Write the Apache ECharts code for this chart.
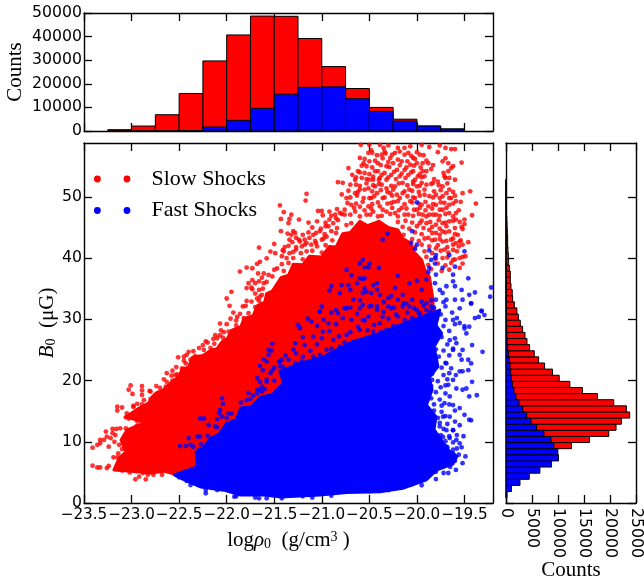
<!DOCTYPE html>
<html><head><meta charset="utf-8">
<style>html,body{margin:0;padding:0;background:#fff}#c{width:644px;height:583px}</style>
<script src="https://cdn.jsdelivr.net/npm/echarts@6/dist/echarts.min.js"></script>
</head><body><div id="c"></div>
<script>
const rhoTicks=[-23.5,-23,-22.5,-22,-21.5,-21,-20.5,-20,-19.5];
const fieldTicks=[0,10,20,30,40,50];
const topCountTicks=[0,10000,20000,30000,40000,50000];
const sideCountTicks=[0,5000,10000,15000,20000,25000];

const rhoBinEdges=[-23.25,-23,-22.75,-22.5,-22.25,-22,-21.75,-21.5,-21.25,-21,-20.75,-20.5,-20.25,-20,-19.75,-19.5];
const slowRhoCounts=[550,2100,6900,15900,29700,40700,48700,48600,39200,27300,18000,10000,5000,2100,850];
const fastRhoCounts=[0,0,0,200,1700,4500,9600,15600,18500,18700,13700,8300,4200,2100,850];

const fieldBinStart=0.87;
const slowFieldCounts=[50,150,300,500,1000,1800,3000,4500,12600,16050,19760,21160,22190,23790,23150,20720,17590,14700,12280,10230,8950,7420,6270,5440,4540,4030,3650,3200,2750,2370,2100,1600,1280,1200,960,830,830,640,510,450,380,320,320,250,200,150,100,80,50,30,20,10];
const fastFieldCounts=[200,1050,2690,4480,6520,8760,10100,9970,9200,8630,7290,5880,4800,3960,3200,2490,1920,1530,1215,1020,900,770,640,450,320,200,150,120,90,70,50,40,30,20,15,10,8,5,4,3,2,1,1,1,0,0,0,0,0,0,0,0];

const slowCloud=[[-23.185,5.4],[-23.13,7.35],[-23.06,8.3],[-23.11,10.3],[-23.05,11.9],[-22.85,13.2],[-23.06,14.05],[-22.92,15.5],[-22.82,16.3],[-22.78,17.4],[-22.74,18],[-22.67,18.4],[-22.61,19.3],[-22.55,20.1],[-22.5,20.6],[-22.47,21.9],[-22.4,22.2],[-22.36,23.8],[-22.25,24.1],[-22.16,25],[-22.1,25.2],[-22.05,26.3],[-21.99,26.9],[-21.95,28.2],[-21.85,28.8],[-21.82,30.1],[-21.72,30.6],[-21.68,32.2],[-21.6,32.8],[-21.58,34.2],[-21.52,34.6],[-21.43,36.8],[-21.35,37.2],[-21.3,39],[-21.2,38.9],[-21.13,40.3],[-21,40.2],[-20.92,41.9],[-20.85,41.8],[-20.78,44],[-20.7,44.2],[-20.6,46],[-20.52,45.3],[-20.4,46],[-20.3,45],[-20.2,44.6],[-20.15,43.2],[-20.07,42.5],[-20.03,41],[-19.95,39.7],[-19.92,38.2],[-19.87,37],[-19.83,33.2],[-19.83,32.1],[-19.8,30.4],[-19.9,25],[-21,15],[-22.2,6],[-22.31,5.9],[-22.42,5.1],[-22.52,4.6],[-22.66,5.2],[-22.8,4.9],[-23,5.2]];
const fastCloud=[[-22.31,5.9],[-22.32,8.3],[-22.24,9.1],[-22.17,10.6],[-22.08,11.2],[-22,13],[-21.9,13.6],[-21.85,15.5],[-21.74,15.7],[-21.64,17.3],[-21.52,17.7],[-21.4,19.6],[-21.44,21.5],[-21.23,22.8],[-20.98,23.9],[-20.67,26.4],[-20.39,27.7],[-20.04,29.9],[-19.76,31.5],[-19.8,29],[-19.74,27.7],[-19.82,25.5],[-19.78,22.3],[-19.87,20.5],[-19.84,18.5],[-19.9,16],[-19.8,14.1],[-19.82,12],[-19.72,9.75],[-19.66,8.5],[-19.58,7.6],[-19.62,6.4],[-19.79,5.4],[-19.9,3.8],[-20.15,2.4],[-20.39,1.85],[-20.74,1.7],[-21.02,1.3],[-21.44,1],[-21.61,1.3],[-21.85,1.3],[-22.03,2.1],[-22.27,2.6],[-22.45,3.8],[-22.55,4.6]];

const slowDots=[[-23.41,6.1],[-23.36,5.8],[-23.33,5.8],[-23.26,5.7],[-23.24,6.05],[-23.41,9.04],[-23.36,9.5],[-23.33,10.3],[-23.33,9.75],[-23.27,11.66],[-23.2,12.1],[-23.16,12.1],[-23.26,10.84],[-23.29,10.3],[-23.22,10.6],[-23.17,11.1],[-23.24,9.2],[-23.13,9.5],[-23.19,7.46],[-23.15,7.46],[-22.96,3.87],[-22.92,4.3],[-22.85,3.87],[-22.83,4.6],[-22.77,4.6],[-23.15,15.74],[-23.1,15.6],[-23.15,15.1],[-23.06,14],[-23.03,13.8],[-22.99,13.9],[-23.01,19.2],[-22.99,17.8],[-23.03,18.5],[-22.89,19.1],[-22.89,18.4],[-22.89,17.65],[-22.81,18.3],[-22.74,19.1],[-22.68,4.6],[-22.66,5.4],[-22.98,15.7],[-23.05,14.65],[-22.89,13.3],[-22.94,13.3],[-23.06,12.2],[-23.12,12.2],
[-23.15,5.6],[-23.1,5.3],[-23.02,5],[-22.95,5.2],[-22.88,4.9],[-23.12,6.6],[-23.1,8.8],[-23.02,8.2],[-23,11.5],[-22.95,12.5],[-23.2,11.4],[-23.18,10],[-23.05,10.4],[-23.14,8.1],
[-21.66,41.7],[-21.5,42.3],[-21.41,41.3],[-21.49,40.8],[-21.54,41.06],[-21.58,39.97],[-21.65,39.4],[-21.68,39.05],[-21.79,38.45],[-21.73,38.34],[-21.86,37.8],[-21.67,37.5],[-21.61,37.5],[-21.56,37.25],[-21.47,38.3],[-21.73,36.4],[-21.66,36.2],[-21.77,35.9],[-21.79,35.1],[-21.73,34.9],[-21.61,35.9],[-21.66,34.8],[-21.95,34.5],[-22,33.4],[-21.65,33.7],[-21.68,33.4],[-21.79,33],[-21.97,32.2],[-21.83,32.1],[-21.93,31.1],[-21.96,30.1],[-22.07,29.3],[-21.89,30.4],[-21.79,29.9],[-22.03,27.9],[-22.12,27.4],[-22.07,27.4],[-22.1,26.9],[-22.22,26.4],[-22.17,25.3],[-22.29,25.3],[-22.4,24.7],[-22.51,23.8],[-22.45,23.9],[-22.45,23.25],[-22.38,23.4],[-22.57,21.6],[-22.63,21.2],[-22.54,20.9],[-22.63,19.8],[-22.98,15.9],[-22.89,16.1],
[-21.44,48.6],[-21.4,47.5],[-21.43,46.4],[-21.32,47.1],[-21.34,46.4],[-21.35,45.7],[-21.24,46.3],[-21.14,45.8],[-21.43,44.4],[-21.3,44.4],[-21.32,43.8],[-21.28,44.1],[-21.27,43.3],[-21.34,43],[-21.31,42.6],[-21.39,41.8],[-21.4,41.1],[-21.42,40.3],[-21.23,42.7],[-21.18,43],[-21.13,43.3],[-21.09,43.8],[-21.06,44.1],[-21.02,44.4],[-21.16,42.45],[-21.21,41.9],[-21.27,41.4],[-21.34,40.8],[-21.37,40],[-21.16,41.1],[-21.11,42.2],[-21.06,42.45],[-21,43],[-20.95,43.5],[-20.9,44.4],[-20.93,45.2],[-20.88,45.7],[-20.92,46.3],[-20.86,47.1],[-20.92,47.6],[-21.04,47.7],[-21,47.7],[-21.16,50.5],[-21.17,49.4],[-20.83,52.4],[-20.78,52.3],[-20.72,54.7],[-20.79,50.4],[-20.69,48.7],[-20.74,49.8],[-20.68,53.6],[-20.65,52.8],[-20.62,54.2],[-20.64,52],[-20.65,50.6],[-20.6,51.2],[-20.58,53.1],[-20.56,55.5],[-20.6,56.35],[-20.51,57.2],[-20.48,57.6],[-20.5,55.8],[-20.53,55],[-20.55,53.9],[-20.5,52.8],[-20.44,54.2],[-20.41,55.5],[-20.44,51.7],[-20.51,51.4],[-20.56,49.8],[-20.6,48.4],[-20.65,47.6],[-20.7,47.1],[-20.76,47.1],[-20.81,47.4],[-20.85,46.5],[-20.74,45.4],[-20.69,45.7],[-20.48,49.8],[-20.42,50.6],[-20.37,52],[-20.32,52.8],[-20.37,53.6],[-20.32,55],[-20.28,56.35],[-20.23,57.2],[-20.2,58],[-20.39,58.5],[-20.35,58],[-20.3,58.4],[-20.34,57.4],[-20.37,56.9],[-20.59,58.5],[-20.5,58.5],[-20.25,55.5],[-20.21,54.4],[-20.27,53.6],[-20.16,55.8],[-20.13,56.9],[-20.13,58],[-20.07,58.25],[-20.09,57.2],[-20.04,56.35],[-20.07,55.25],[-20.13,54.4],[-20.09,53.6],[-20.04,54.2],[-20,55.5],[-19.97,56.9],[-19.94,55.5],[-19.88,55.5],[-19.94,54.2],[-19.99,53.35],[-19.92,53.35],[-20.04,52.5],[-20.15,52.3],[-20.23,51.7],[-20.28,50.6],[-20.21,50.35],[-20.15,50.6],[-20.08,51.2],[-20,51.7],[-19.95,52.3],[-19.9,52],[-19.85,54.55],[-19.95,58.5],[-19.87,58.15],[-19.76,58.4],[-19.7,58],[-19.64,57.8],[-19.6,57.8],[-19.78,57.3],[-19.73,55.8],[-19.67,55.5],[-19.64,54.7],[-19.67,54.2],[-19.53,55.6],[-19.71,53.35],[-19.66,53.1],[-19.78,52.5],[-19.83,52.3],[-19.73,51.7],[-19.69,50.6],[-19.8,50.35],[-19.76,49.8],[-19.87,50.1],[-19.92,50.35],[-19.66,51.2],[-19.52,50.6],[-19.44,50.9],[-19.59,49.3],[-19.38,48.9],[-19.64,49.8],[-19.6,50.2],[-19.71,49],[-19.66,48.7],[-19.8,48.7],[-19.88,48.45],[-19.95,48.7],[-19.73,47.9],[-19.66,47.35],[-19.59,47.35],[-19.8,47.1],[-19.87,47.1],[-19.94,47.1],[-20,47.9],[-19.42,47],[-19.5,46.3],[-19.5,45.55],[-19.59,46.3],[-19.66,46],[-19.73,45.7],[-19.8,45.45],[-19.9,45.7],[-19.97,45.7],[-19.57,43.8],[-19.52,44.75],[-19.66,44.35],[-19.73,44.35],[-19.8,44.1],[-19.87,44.6],[-19.46,42.6],[-19.55,42.7],[-19.64,43],[-19.73,42.7],[-19.81,43],[-19.88,43.3],[-19.55,40],[-19.62,39.7],[-19.71,41.4],[-19.8,41.6],[-19.62,41.35],[-19.73,40],[-19.59,42.45],[-19.52,42.2],[-19.52,39.1],[-19.55,38.4],[-19.49,40.3],
[-20.39,48.45],[-20.32,47.6],[-20.23,47.35],[-20.16,48.2],[-20.09,47.1],[-20.46,47.6],[-20.53,47.1],[-20.41,46.8],[-20.27,49],[-20.2,49.3],[-20.36,49.8],[-20.07,49.3],[-20.51,48.45],[-20.02,49.8],[-20.32,51.4],[-20.39,53.1],[-20.18,53.35],[-20.46,52.8],
[-20.47,57.2],[-20.42,56.8],[-20.33,57.1],[-20.26,56.9],[-20.18,57.4],[-20.06,56.7],[-20,57.3],[-19.93,56.8],[-20.55,56.2],[-20.44,55.9],[-20.36,56.3],[-20.3,55.7],[-20.2,56.1],[-20.1,55.8],[-20.02,56.2],[-19.9,55.9],[-19.7,56.3],[-20.58,55.1],[-20.47,54.8],[-20.38,55.2],[-20.29,54.9],[-20.18,55.2],[-20.11,54.8],[-20.03,55.1],[-19.96,54.8],[-19.83,55.2],[-19.62,55],[-20.6,54],[-20.5,53.7],[-20.41,54.2],[-20.34,53.9],[-20.24,54.1],[-20.16,53.8],[-20.06,54],[-19.97,53.7],[-19.9,54.2],[-19.72,53.9],[-20.64,53.2],[-20.53,52.9],[-20.46,53.3],[-20.4,52.8],[-20.3,53.2],[-20.22,52.9],[-20.12,53.1],[-20.02,52.8],[-19.95,53.2],[-19.82,52.9],[-19.7,53.1],[-19.6,52.8],[-20.7,52],[-20.6,51.8],[-20.53,52.2],[-20.46,51.9],[-20.4,52.1],[-20.27,51.8],[-20.19,52.2],[-20.1,51.9],[-20.04,52.1],[-19.97,51.8],[-19.85,52.1],[-19.77,51.9],[-19.68,52.2],[-20.72,51],[-20.62,50.8],[-20.55,51.2],[-20.47,50.9],[-20.38,51.1],[-20.31,50.8],[-20.25,51.2],[-20.13,50.9],[-20.05,51],[-19.98,50.8],[-19.92,51.2],[-19.82,50.9],[-19.75,51.1],[-19.62,50.8],[-20.7,49.9],[-20.63,50.2],[-20.5,49.8],[-20.45,50.1],[-20.34,49.9],[-20.26,50.2],[-20.18,49.8],[-20.1,50.1],[-20.04,49.9],[-19.97,50.2],[-19.83,49.9],[-19.73,50.1],[-19.66,49.8],[-20.73,49],[-20.64,48.9],[-20.57,49.2],[-20.47,48.8],[-20.41,49.1],[-20.31,48.9],[-20.24,49.2],[-20.13,48.8],[-20.05,49.1],[-19.98,48.9],[-19.91,49.2],[-19.83,48.8],[-19.75,49.1],[-19.62,48.9],[-19.54,49.2],[-20.84,48],[-20.76,47.9],[-20.66,48.2],[-20.55,47.8],[-20.48,48.1],[-20.36,47.9],[-20.26,48.2],[-20.19,47.8],[-20.11,48.1],[-20.03,47.9],[-19.97,48.2],[-19.91,47.8],[-19.84,48.1],[-19.76,47.9],[-19.69,48.2],[-19.56,47.8],[-20.99,47],[-20.9,46.9],[-20.79,47.2],[-20.6,46.8],[-20.49,47.1],[-20.37,46.9],[-20.28,47.2],[-20.2,46.8],[-20.13,47.1],[-20.04,46.9],[-19.98,47.2],[-19.9,46.8],[-19.83,47.1],[-19.76,46.9],[-19.7,47.2],[-19.62,46.8],[-21.05,46],[-20.96,45.8],[-20.83,46.2],[-20.2,45.9],[-20.12,46.1],[-20.05,45.8],[-19.95,46.1],[-19.86,45.9],[-19.77,46.2],[-19.7,45.8],[-19.62,46.1],[-19.55,45.9],[-21.1,45],[-21.01,44.8],[-20.96,45.2],[-20.84,44.9],[-20.15,45.1],[-20.08,44.8],[-20,45.2],[-19.93,44.9],[-19.84,45.1],[-19.76,44.8],[-19.69,45.2],[-19.6,44.9],[-19.53,45.1],[-21.36,44],[-21.2,43.8],[-21.14,44.2],[-20.97,43.9],[-20.85,44.1],[-20.14,43.8],[-20.02,44.2],[-19.95,43.9],[-19.84,44.1],[-19.76,43.8],[-19.7,44.2],[-19.6,43.9],[-21.24,43],[-21.07,42.8],[-20.98,43.2],[-20.89,42.9],[-20.05,43.1],[-19.98,42.8],[-19.92,43.2],[-19.84,42.9],[-19.76,43.1],[-19.69,42.8],[-19.62,43.2],[-19.54,42.9],[-21.35,42],[-21.27,41.8],[-21.18,42.2],[-21.05,41.9],[-20.96,42.1],[-20.02,41.8],[-19.95,42.2],[-19.87,41.9],[-19.78,42.1],[-19.68,41.8],[-19.62,42.2],[-19.56,41.9],[-21.3,41],[-21.22,40.8],[-21.1,41.2],[-21,40.9],[-19.92,41.1],[-19.84,40.8],[-19.75,41.2],[-19.67,40.9],[-19.58,41.1],[-21.3,40],[-21.2,39.8],[-19.9,40.2],[-19.8,39.9],[-19.68,40.1],[-19.6,39.8],[-19.52,40.2],[-21.42,39],[-21.35,39.2],[-19.88,38.9],[-19.78,39.1],[-19.7,38.8],[-19.64,39.2],[-21.5,38.1],[-21.4,37.9],[-19.85,38.2],[-19.74,37.9],[-19.66,38.1],[-21.52,37],[-21.63,36.8],[-21.58,36.1],[-21.7,35.9],[-21.62,35],[-21.74,35.2],[-21.63,34],[-21.7,34.2],[-21.66,33],[-21.74,32.9],[-21.7,32],[-21.8,32.2],[-21.77,31],[-21.86,30.9],[-21.82,30.2],[-21.9,29.8],[-21.9,29],[-22,29.2],[-21.98,28],[-22.06,28.2],[-22.04,27],[-22.14,26.8],[-22.13,26],[-22.2,26.2],[-22.25,25.8],[-22.24,25],[-22.35,24.8],[-22.33,24],[-22.42,24.2],[-22.37,23],[-22.43,22.8],[-22.47,22],[-22.53,22.2],[-22.52,21],[-22.58,20.8],[-22.57,20],[-22.66,20.2],[-22.64,19],[-22.7,18.8],[-22.72,18],[-22.8,18.2],[-22.8,17],[-22.87,16.8],[-22.84,16],[-22.94,16.2]];

const fastDots=[[-19.43,32.6],[-19.32,31.3],[-19.29,30.7],[-19.35,30.4],[-19.39,30.2],[-19.45,28.8],[-19.48,27.7],[-19.31,24.7],[-19.42,25.8],[-19.52,25],[-19.53,23.4],[-19.46,23.4],[-19.43,22.8],[-19.46,21.7],[-19.52,21.5],[-19.59,20.9],[-19.42,19.8],[-19.48,18.7],[-19.52,18.5],[-19.37,17.6],[-19.45,17.4],[-19.5,14.4],[-19.45,13.6],[-19.43,13.5],[-19.55,12.7],[-19.51,10.9],[-19.55,9.75],[-19.49,7.6],[-19.52,6.5],[-19.59,5.4],[-19.67,4.9],
[-19.62,29.9],[-19.55,29.4],[-19.5,28.5],[-19.655,26.6],[-19.585,26.1],[-19.62,25],[-19.55,24.2],[-19.69,22.8],[-19.64,22],[-19.55,21.5],[-19.62,20.1],[-19.67,19.3],[-19.585,18.7],[-19.655,17.4],[-19.71,16.3],[-19.62,16],[-19.55,15.5],[-19.725,14.1],[-19.655,14.1],[-19.6,13.3],[-19.76,12.5],[-19.69,11.9],[-19.62,11.9],[-19.725,10.8],[-19.655,10.6],[-19.585,10.3],[-19.69,9.2],[-19.62,8.7],[-19.76,7.6],
[-22.38,2.94],[-22.22,1.58],[-22.22,2.12],[-22.1,2.12],[-21.92,1.04],[-21.77,1.58],[-21.66,0.76],[-21.58,0.76],[-21.42,0.76],
[-22.05,17.1],[-22.04,16.2],[-22.07,15.2],[-22.08,14.65],[-22.1,13.7],[-22.05,14.1],[-21.98,14.65],[-22.28,13.8],[-22.24,13.8],[-22.12,12.5],[-22.19,12.75],[-22.4,10.6],[-22.31,10.85],[-22.28,10.85],[-22.49,9.3],[-22.43,9.3],[-22.38,9.5],[-22.35,9.2],[-22.29,8.7],[-21.79,16.8],[-21.68,17.9],[-21.65,18.5],[-21.58,19.8],
[-21.52,26],[-21.56,25],[-21.53,24.9],[-21.56,24.2],[-21.61,23.4],[-21.58,23.1],[-21.65,22.4],[-21.62,21.7],[-21.45,23.1],[-21.42,23.4],[-21.44,22.3],[-21.52,21.7],[-21.54,21.2],[-21.68,20.4],[-21.65,19.8],[-21.58,20.1],[-21.68,18.5],[-21.63,19],[-21.77,18],[-21.72,17.6],[-21.63,18.2],
[-20,49.1],[-20.05,44.4],[-20.31,44],[-20.36,43],[-20.06,42.5],[-20,42.2],[-20.02,41.5],[-19.87,41.25],[-19.5,41.1],[-19.66,40.5],[-19.8,40.5],[-19.81,40],[-19.85,39.7],[-19.81,39.1],[-19.6,38.6],[-19.73,38.4],[-19.87,38.4],[-20.6,39.1],[-20.57,39.7],[-20.5,39.1],[-20.55,38.5],[-20.51,38.5],[-20.4,38.4],[-20.74,38.1],[-20.2,37.1],[-19.88,37.7],[-19.8,37.3],[-19.62,37.3],[-19.46,36.7],[-20.9,35.4],[-20.92,34.7],[-20.69,37.2],[-20.79,35.6],[-20.72,35.6],[-20.7,34.8],[-20.81,34.3],[-20.6,36.7],[-20.57,36.6],[-20.55,36.7],[-20.63,35.9],[-20.55,35],[-20.57,34.3],[-20.53,34.5],[-20.46,35.6],[-20.42,35.9],[-20.42,34.8],[-20.48,34.3],[-20.39,34],[-20.23,35.1],[-20.27,33.8],[-20.15,34],[-20.08,35.9],[-20,36.3],[-19.95,34.8],[-19.9,36.5],[-19.81,35.9],[-19.76,34.8],[-19.69,35.4],[-19.62,36.2],[-19.6,35.4],[-19.53,34.8],[-19.45,34],[-19.39,34.4],[-19.22,35.2],[-19.23,33.7],[-19.43,32.6],[-19.32,31.4],[-19.52,33.2],[-19.73,34.3],[-19.8,33.2],[-19.69,33.2],[-19.85,32.1],[-19.9,31.5],[-20,31.5],[-20.11,32.6],[-20.2,33.2],[-20.3,33.5],[-20.3,32.1],[-20.42,32.1],[-20.5,32.1],[-20.6,31.8],[-20.67,33.2],[-20.76,31.8],[-20.85,31.5],[-21.02,31.3],
[-21.02,31.26],[-21.23,28.54],[-21.11,29.63],[-20.93,29.36],[-20.83,30.99],[-20.74,31.81],[-20.69,29.9],[-20.57,32.35],[-20.51,30.45],[-20.42,31.54],[-20.39,29.36],[-20.27,31.81],[-20.2,30.45],[-20.08,32.08],[-19.97,30.99],[-19.9,32.63],[-19.87,29.9],[-19.8,28.81],[-20.88,26.63],[-20.99,28],[-21.09,27.18],[-21.18,25.82],[-21.27,24.46],[-21.35,23.37],[-21.41,22.28],[-20.74,27.45],[-20.6,28.27],[-20.46,28],[-20.32,28.27],[-20.21,28.81],[-20.09,28.54],[-20,27.72],[-19.9,28.27],[-20.81,25.54],[-20.95,25],[-21.09,23.91],[-21.21,23.09],[-21.32,22],[-20.57,26.36],[-20.39,26.36],[-20.21,26.9],[-20.08,26.09],[-19.94,26.63],[-20.57,29.9],[-20.36,30.45],[-20.14,32.63],[-19.83,31.81],
[-20.6,33.1],[-20.35,32.8],[-20.05,33.2],[-19.95,32.9],[-19.85,33.1],[-19.72,32.8],[-19.6,33.2],[-21,32.1],[-20.7,31.9],[-20.48,32.2],[-20.24,31.9],[-20.15,32.1],[-20.03,31.8],[-19.93,32.2],[-19.82,31.9],[-19.7,32.1],[-19.55,31.8],[-20.9,31.1],[-20.63,30.9],[-20.35,31.2],[-20.22,30.8],[-20.1,31.1],[-19.98,30.9],[-19.86,31.2],[-19.75,30.8],[-19.63,31.1],[-21.15,30.1],[-20.98,29.9],[-20.78,30.2],[-20.55,29.8],[-20.3,30.1],[-20.13,29.9],[-20.05,30.2],[-19.92,29.8],[-19.82,30.1],[-19.7,29.9],[-19.58,30.2],[-21.25,29.1],[-21.05,28.9],[-20.85,29.2],[-20.62,28.8],[-20.45,29.1],[-20.25,28.9],[-20.1,29.2],[-19.96,28.8],[-19.85,29.1],[-19.72,28.9],[-19.6,29.2],[-19.5,28.9],[-20.92,28.1],[-20.7,27.9],[-20.52,28.2],[-20.38,27.9],[-20.18,28.1],[-20.04,27.8],[-19.92,28.2],[-19.78,27.9],[-19.66,28.1],[-21.2,27.1],[-21,26.9],[-20.82,27.2],[-20.5,26.8],[-20.3,27.1],[-20.13,26.9],[-19.97,27.2],[-19.84,26.8],[-19.74,27.1],[-19.6,26.9],[-21.28,26.1],[-21.05,25.9],[-20.76,26.2],[-20.47,25.8],[-19.85,26.1],[-19.68,25.9],[-21.3,25.1],[-21.12,24.9],[-20.9,25.2],[-20.72,24.8],[-19.8,25.1],[-19.72,24.9],[-19.62,25.2],[-21.38,24.1],[-21.2,23.9],[-21.02,24.2],[-19.77,23.9],[-19.66,24.1],[-21.44,23.1],[-21.28,22.9],[-19.8,23.2],[-19.7,22.9],[-21.5,22.1],[-19.82,21.9],[-19.74,22.1],[-19.84,21.1],[-19.72,20.9],[-19.66,21.2],[-19.84,20.1],[-19.78,19.9],[-19.68,20.2],[-19.85,19.1],[-19.75,18.9],[-19.7,19.2],[-19.88,17.9],[-19.8,18.1],[-19.7,17.9],[-19.85,17.1],[-19.76,16.9],[-19.82,16.1],[-19.74,15.9],[-19.66,16.1],[-19.82,15.1],[-19.74,14.9],[-19.6,15.1],[-19.78,13.9],[-19.7,14.2],[-19.76,13.1],[-19.68,12.9],[-19.72,12.1],[-19.62,11.9],[-19.75,11.1],[-19.66,10.9],[-19.58,11.1],[-19.7,10.1],[-19.62,9.9],[-19.68,9.1],[-19.58,8.9],[-19.53,9.1],[-19.62,8.1],[-19.56,7.9],[-19.68,7.1],[-19.6,6.9],[-19.72,6.1],[-19.65,5.9],[-19.8,5.1],[-19.72,4.9],[-19.9,4.1],[-19.8,3.9],[-20.05,3.1],[-19.95,2.9],[-20.2,3.1],[-20.3,2.1],[-20.5,1.9],[-20.7,2.1],[-21,1.9],[-21.3,2.1],[-21.2,1.1],[-21.7,0.9],[-21.9,1.1],[-21.1,0.9],[-20.9,1.2],
[-22.15,2.9],[-22.3,3.2],[-22.42,3.6],[-22.5,4.2],[-22.3,7.5],[-22.27,9.6],[-22.2,11],[-22.1,12.4],[-22,13.9],[-21.95,14.6],[-21.85,16.4],[-21.75,17],[-21.6,18.6],[-21.5,20]];

const xMin=-23.5,xMax=-19.2,yMax=58.8;
const black='#000';
const FONT='"DejaVu Sans"',SERIF='"Liberation Serif"';
const minus=s=>String(s).replace('-','\u2212');

function axis(extra,ticks,showLabel,fmt,labelExtra){
  return Object.assign({type:'value',splitLine:{show:false},nameMoveOverlap:false,
    axisLine:{show:true,onZero:false,lineStyle:{color:black,width:1.4}},
    axisTick:{show:true,inside:true,length:8,customValues:ticks,lineStyle:{color:black,width:1.3}},
    axisLabel:Object.assign({show:showLabel,customValues:ticks,margin:2,color:black,fontFamily:FONT,fontSize:15.7,formatter:fmt,showMinLabel:true,showMaxLabel:true,hideOverlap:false},labelExtra||{}),
    nameTextStyle:{color:black,fontFamily:SERIF,fontSize:21}},extra);
}
const rhoFmt=v=>minus(v.toFixed(1));
const cloud=(name,color,pts)=>({type:'custom',name,xAxisIndex:0,yAxisIndex:0,data:pts,silent:true,
  itemStyle:{color},
  renderItem:(p,api)=>p.dataIndex===0?{type:'polygon',shape:{points:pts.map(q=>api.coord(q))},style:{fill:color,stroke:color,lineWidth:3,lineJoin:'round'}}:null});
const dots=(name,color,pts)=>({type:'scatter',name,xAxisIndex:0,yAxisIndex:0,data:pts,symbol:'circle',symbolSize:4.8,itemStyle:{color},silent:true});

const topRows=c=>c.map((v,i)=>[rhoBinEdges[i],rhoBinEdges[i+1],v]);
const sideRows=c=>c.map((v,i)=>[v,fieldBinStart+i,fieldBinStart+i+1]);
const topHist=(name,color,c)=>({type:'custom',name:name+' counts',xAxisIndex:2,yAxisIndex:2,data:topRows(c),silent:true,encode:{x:[0,1],y:2},
  renderItem:(p,api)=>{const a=api.coord([api.value(0),0]),b=api.coord([api.value(1),api.value(2)]);
    return {type:'rect',shape:{x:a[0],y:b[1],width:b[0]-a[0],height:a[1]-b[1]},style:{fill:color,stroke:black,lineWidth:1}};}});
const sideHist=(name,color,c)=>({type:'custom',name:name+' field counts',xAxisIndex:4,yAxisIndex:4,data:sideRows(c),silent:true,encode:{x:0,y:[1,2]},
  renderItem:(p,api)=>{const a=api.coord([0,api.value(1)]),b=api.coord([api.value(0),api.value(2)]);
    return {type:'rect',shape:{x:a[0],y:b[1],width:b[0]-a[0],height:a[1]-b[1]},style:{fill:color,stroke:black,lineWidth:1}};}});

const twoDots='path://M3.4 0a3.4 3.4 0 1 0 0 6.8a3.4 3.4 0 1 0 0-6.8zM33 0a3.4 3.4 0 1 0 0 6.8a3.4 3.4 0 1 0 0-6.8z';

const chart=echarts.init(document.getElementById('c'),null,{renderer:'canvas'});
chart.setOption({
  animation:false,backgroundColor:'#fff',
  grid:[{left:84,top:143,width:409,height:360,outerBoundsMode:'none'},{left:84,top:13,width:409,height:118,outerBoundsMode:'none'},{left:506,top:143,width:130,height:360,outerBoundsMode:'none'}],
  legend:{show:true,orient:'vertical',left:94,top:168,padding:0,itemWidth:36.4,itemHeight:6.8,itemGap:9.5,selectedMode:false,
    textStyle:{fontFamily:SERIF,fontSize:22,color:black,padding:[0,0,0,16]},
    data:[{name:'Slow Shocks',icon:twoDots,itemStyle:{color:'#f00'}},{name:'Fast Shocks',icon:twoDots,itemStyle:{color:'#00f'}}]},
  xAxis:[
    axis({gridIndex:0,min:xMin,max:xMax,position:'bottom',nameLocation:'middle',nameGap:27,
      name:'{r|log}{i|\u03c1}{s|0}{r|  (g/cm}{u|3}{r| )}',
      nameTextStyle:{color:black,rich:{r:{fontFamily:SERIF,fontSize:21,color:black},i:{fontFamily:SERIF,fontStyle:'italic',fontSize:21,color:black},s:{fontFamily:SERIF,fontSize:14,color:black,verticalAlign:'bottom',lineHeight:14,padding:[6,0,0,0]},u:{fontFamily:SERIF,fontSize:14,color:black,verticalAlign:'top',padding:[0,0,6,0]}}}},rhoTicks,true,rhoFmt,{margin:5,fontSize:15.2}),
    axis({gridIndex:0,min:xMin,max:xMax,position:'top'},rhoTicks,false),
    axis({gridIndex:1,min:xMin,max:xMax,position:'bottom'},rhoTicks,false),
    axis({gridIndex:1,min:xMin,max:xMax,position:'top'},rhoTicks,false),
    axis({gridIndex:2,min:0,max:25000,position:'bottom',name:'Counts',nameLocation:'middle',nameGap:57},sideCountTicks,true,v=>String(v),{rotate:-90,margin:5}),
    axis({gridIndex:2,min:0,max:25000,position:'top'},sideCountTicks,false)
  ],
  yAxis:[
    axis({gridIndex:0,min:0,max:yMax,position:'left',nameLocation:'middle',nameGap:26,
      name:'{i|B}{s|0}{r|  (\u03bcG)}',
      nameTextStyle:{color:black,rich:{r:{fontFamily:SERIF,fontSize:21,color:black},i:{fontFamily:SERIF,fontStyle:'italic',fontSize:21,color:black},s:{fontFamily:SERIF,fontSize:14,color:black,verticalAlign:'bottom',padding:[6,0,0,0]}}}},fieldTicks,true,v=>String(v)),
    axis({gridIndex:0,min:0,max:yMax,position:'right'},fieldTicks,false),
    axis({gridIndex:1,min:0,max:50000,position:'left',name:'Counts',nameLocation:'middle',nameGap:58},topCountTicks,true,v=>String(v)),
    axis({gridIndex:1,min:0,max:50000,position:'right'},topCountTicks,false),
    axis({gridIndex:2,min:0,max:yMax,position:'left'},fieldTicks,false),
    axis({gridIndex:2,min:0,max:yMax,position:'right'},fieldTicks,false)
  ],
  series:[
    cloud('Slow Shocks','#f00',slowCloud),
    dots('Slow Shocks','#f00',slowDots),
    cloud('Fast Shocks','#00f',fastCloud),
    dots('Fast Shocks','#00f',fastDots),
    topHist('Slow Shocks','#f00',slowRhoCounts),
    topHist('Fast Shocks','#00f',fastRhoCounts),
    sideHist('Slow Shocks','#f00',slowFieldCounts),
    sideHist('Fast Shocks','#00f',fastFieldCounts)
  ]
});
</script></body></html>
